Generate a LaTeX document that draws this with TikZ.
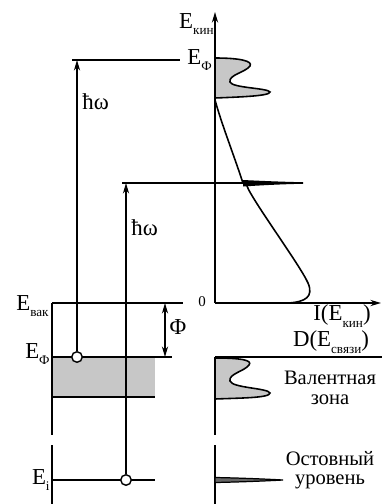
\documentclass[tikz,border=0pt]{standalone}
\usepackage{fontspec}
\setmainfont{Liberation Serif}
\usetikzlibrary{arrows.meta}
\newcommand\lowsub[1]{\raisebox{-0.6ex}{\fontsize{7.5}{8}\selectfont#1}}

\begin{document}
\begin{tikzpicture}[x=0.02cm, y=-0.02cm,
      every node/.style={font=\fontsize{13}{13}\selectfont, inner sep=0pt},
      level/.style={line width=1pt},
      axis/.style={line width=1pt, -{Stealth[length=6pt, width=3.5pt]}},
      excite/.style={line width=0.8pt, -{Stealth[length=6pt, width=3.5pt]}},
      hole/.style={circle, draw, line width=0.8pt, fill=white, minimum size=6pt},
      dos/.style={line width=0.9pt, fill=black!22},
      note/.style={font=\fontsize{11.7}{11}\selectfont, align=center}]
    \useasboundingbox (0,0) rectangle (382,504);
    \coordinate (vacL) at (52,303);
    \coordinate (vacR) at (183,303);
    \coordinate (fermiL) at (52,357);
    \coordinate (fermiR) at (172,357);
    \coordinate (bandL) at (52,397);
    \coordinate (bandR) at (155,397);
    \coordinate (coreL) at (52,480);
    \coordinate (coreR) at (155,480);
    \coordinate (gapA) at (52,435);
    \coordinate (gapB) at (52,445);
    \coordinate (leftEnd) at (52,504);
    \coordinate (top1L) at (72,60);
    \coordinate (top1R) at (180,60);
    \coordinate (top2L) at (122,183);
    \coordinate (top2R) at (303,183);
    \coordinate (orig) at (215,303);
    \coordinate (ekin) at (215,12);
    \coordinate (iax) at (381,303);
    \coordinate (dL) at (215,357);
    \coordinate (dR) at (382,357);
    \coordinate (dGapA) at (215,435);
    \coordinate (dGapB) at (215,445);
    \coordinate (dEnd) at (215,504);
    \coordinate (phiT) at (165,303);
    \coordinate (phiB) at (165,357);

    \fill[black!22] (fermiL) rectangle (bandR);
    \draw[level] (vacL) -- (vacR);
    \draw[level] (fermiL) -- (fermiR);
    \draw[level] (bandL) -- (bandR);
    \draw[level] (coreL) -- (coreR);
    \draw[level] (vacL) -- (gapA);
    \draw[level] (gapB) -- (leftEnd);
    \draw[level] (top1L) -- (top1R);
    \draw[level] (top2L) -- (top2R);
    \draw[line width=0.8pt, {Stealth[length=6pt, width=3.5pt]}-{Stealth[length=6pt, width=3.5pt]}] (phiT) -- (phiB);

    \node[hole] (h1) at (77,357) {};
    \node[hole] (h2) at (126,480) {};
    \draw[excite] (h1) -- (h1 |- top1L);
    \draw[excite] (h2) -- (h2 |- top2L);

    \draw[axis] (orig) -- (ekin);
    \draw[axis] (orig) -- (iax);
    \draw[level] (dL) -- (dR);
    \draw[level] (dL) -- (dGapA);
    \draw[level] (dGapB) -- (dEnd);

    \draw[dos] (215,58) .. controls (240,58) and (253,61) .. (250,66)
      .. controls (246,72) and (228,75) .. (230,82)
      .. controls (232,88) and (268,88) .. (270,92)
      .. controls (270,96) and (240,97) .. (215,98) -- cycle;
    \draw[line width=0.9pt] (215,100) .. controls (222,125) and (232,150) .. (243,183);
    \fill (243,180) .. controls (270,181.3) and (290,182) .. (303,182.2)
      -- (303,183.8) .. controls (290,184) and (270,184.7) .. (243,186.5) -- cycle;
    \draw[line width=0.9pt] (247,186) .. controls (252,200) and (300,265) .. (308,283)
      .. controls (314,297) and (305,302) .. (288,303);
    \draw[dos] (215,358) .. controls (240,358) and (253,360) .. (249,365)
      .. controls (245,371) and (228,374) .. (230,381)
      .. controls (232,388) and (268,388) .. (270,393)
      .. controls (270,398) and (240,398) .. (215,399) -- cycle;
    \draw[line width=0.7pt, fill=black!60] (215,477.5) .. controls (240,478) and (265,479) .. (283,480)
      .. controls (265,481) and (240,482) .. (215,482.5) -- cycle;

    \node[anchor=east] (ekinLab) at (214,24) {E\lowsub{кин}};
    \node[anchor=west] (ephiTop) at (187,60) {E\lowsub{Ф}};
    \node[anchor=west] (hw1) at (82,102) {ħω};
    \node[anchor=west] (hw2) at (131,228) {ħω};
    \node[anchor=east] (evacLab) at (49,306) {E\lowsub{вак}};
    \node (zero) at (202,302) {\fontsize{8.5}{8}\selectfont 0};
    \node (phiLab) at (178,327) {Φ};
    \node[anchor=east] (ephiLab) at (50,354) {E\lowsub{Ф}};
    \node[anchor=east] (eiLab) at (50,480) {E\lowsub{i}};
    \node (iLab) at (342,316) {I(E\lowsub{кин})};
    \node (dLab) at (331,342) {D(E\lowsub{связи})};
    \node[note] (valence) at (330,388) {Валентная\\зона};
    \node[note] (core) at (330,470) {Остовный\\уровень};
  \end{tikzpicture}
\end{document}
